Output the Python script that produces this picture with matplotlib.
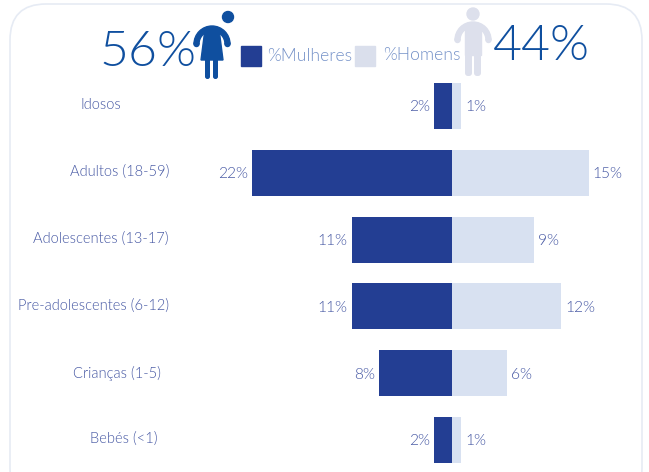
import matplotlib
matplotlib.use('Agg')
import matplotlib.pyplot as plt
from matplotlib import font_manager
from matplotlib.patches import Circle, FancyBboxPatch, Polygon, Rectangle, Wedge

categories = ['Idosos', 'Adultos (18-59)', 'Adolescentes (13-17)',
              'Pre-adolescentes (6-12)', 'Crianças (1-5)', 'Bebés (<1)']
mulheres = [2, 22, 11, 11, 8, 2]
homens = [1, 15, 9, 12, 6, 1]
total_mulheres = 56
total_homens = 44

DARK = '#233e93'
LIGHT = '#d8e1f1'
ICON_BLUE = '#0f4f9f'
ICON_GREY = '#dde0ec'
TEXT = '#4557a3'
LEGEND_TEXT = '#7491c8'


def light_font():
    # the Light cut has to be picked by file, weight matching lands on Hairline
    for f in font_manager.fontManager.ttflist:
        if f.fname.endswith('Lato-Light.ttf'):
            return f.fname
    return None


path = light_font()
if path:
    font = font_manager.FontProperties(fname=path)
else:
    font = font_manager.FontProperties(family='Open Sans', weight='light')


def sized(size):
    fp = font.copy()
    fp.set_size(size)
    return fp


W, H = 649, 472
fig = plt.figure(figsize=(W / 100, H / 100), dpi=100)

# overlay in pixel coordinates for the frame, icons and legend
bg = fig.add_axes([0, 0, 1, 1])
bg.set_xlim(0, W)
bg.set_ylim(H, 0)
bg.axis('off')

bg.add_patch(FancyBboxPatch((10, 4), 632, 500, boxstyle='round,pad=0,rounding_size=36',
                            fc='white', ec='#e6ebf4', lw=1.2))

# bars: 9.1 px per percentage point, zero line at x=452
ax = fig.add_axes([0, 0, 1, 1], facecolor='none')
ax.set_xlim(-452 / 9.1, (W - 452) / 9.1)
ax.set_ylim((H - 106) / 66.8, -106 / 66.8)
ax.axis('off')

y = range(len(categories))
ax.barh(y, [-m for m in mulheres], height=0.69, color=DARK)
ax.barh(y, homens, height=0.69, color=LIGHT)

for i, (m, h) in enumerate(zip(mulheres, homens)):
    ax.text(-m - 0.45, i + 0.02, f'{m}%', ha='right', va='center', fontproperties=sized(11.2), color=TEXT)
    ax.text(h + 0.45, i + 0.02, f'{h}%', ha='left', va='center', fontproperties=sized(11.2), color=TEXT)

# category labels are centred on their own positions
label_x = [101, 120, 101, 94, 117, 124]
label_y = [105, 172, 239, 306, 373, 439]
for name, lx, ly in zip(categories, label_x, label_y):
    bg.text(lx, ly, name, ha='center', va='center', fontproperties=sized(10.5), color=TEXT)

# headline totals
bg.text(148, 52, f'{total_mulheres}%', ha='center', va='center', fontproperties=sized(36), color=ICON_BLUE)
bg.text(541, 47, f'{total_homens}%', ha='center', va='center', fontproperties=sized(36), color=ICON_BLUE)

# woman icon
bg.add_patch(Circle((228, 17), 5.5, color=ICON_BLUE))
bg.add_patch(Wedge((212, 44), 18, 180, 360, width=5, color=ICON_BLUE))
bg.add_patch(Polygon([[205, 29], [219, 29], [223, 60], [201, 60]], color=ICON_BLUE))
bg.add_patch(Circle((196.5, 44), 2.5, color=ICON_BLUE))
bg.add_patch(Circle((227.5, 44), 2.5, color=ICON_BLUE))
bg.add_patch(FancyBboxPatch((205, 58), 5, 21, boxstyle='round,pad=0,rounding_size=2.4',
                            fc=ICON_BLUE, ec='none'))
bg.add_patch(FancyBboxPatch((213, 58), 5, 21, boxstyle='round,pad=0,rounding_size=2.4',
                            fc=ICON_BLUE, ec='none'))

# man icon
bg.add_patch(Circle((473, 14), 6, color=ICON_GREY))
bg.add_patch(Wedge((473, 40), 18, 180, 360, width=5, color=ICON_GREY))
bg.add_patch(Rectangle((465, 25), 16, 30, color=ICON_GREY))
bg.add_patch(Circle((457.5, 40), 2.5, color=ICON_GREY))
bg.add_patch(Circle((488.5, 40), 2.5, color=ICON_GREY))
bg.add_patch(FancyBboxPatch((465, 50), 7, 26, boxstyle='round,pad=0,rounding_size=3',
                            fc=ICON_GREY, ec='none'))
bg.add_patch(FancyBboxPatch((474, 50), 7, 26, boxstyle='round,pad=0,rounding_size=3',
                            fc=ICON_GREY, ec='none'))

# legend
bg.add_patch(Rectangle((241, 46), 20, 20, color=DARK))
bg.add_patch(Rectangle((355, 46), 20, 20, color='#dadfec'))
bg.text(267, 56, '%Mulheres', ha='left', va='center', fontproperties=sized(12.7), color=LEGEND_TEXT)
bg.text(383, 55, '%Homens', ha='left', va='center', fontproperties=sized(12.7), color=LEGEND_TEXT)

fig.savefig('out.png', dpi=100)
